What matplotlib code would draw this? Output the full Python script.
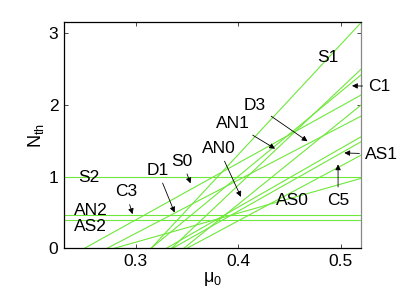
import numpy as np
import matplotlib.pyplot as plt

plt.rcParams['font.family'] = ['Liberation Sans', 'DejaVu Sans']
plt.rcParams['mathtext.fontset'] = 'custom'
plt.rcParams['mathtext.rm'] = 'Liberation Sans'
plt.rcParams['mathtext.it'] = 'Liberation Sans'

# threshold lines: mu_0 where N_th = 0, and N_th value at the right edge (mu_0 = 0.52)
mu_zero = [0.315, 0.335, 0.315, 0.250, 0.272, 0.347, 0.330, 0.336, 0.350, 0.279]
n_right = [3.15, 2.50, 2.42, 2.14, 1.845, 2.00, 1.557, 1.487, 1.30, 0.976]

# horizontal thresholds (S2, AN2, AS2)
n_flat = [1.0, 0.47, 0.39]

green = '#6ee83a'
x_lo, x_hi = 0.23, 0.52

fig = plt.figure(figsize=(3.98, 2.99), dpi=100)
ax = fig.add_axes([64/398, 1-248.3/299, (361-64)/398, (248.3-22)/299])

for m0, nr in zip(mu_zero, n_right):
    slope = nr / (x_hi - m0)
    xs = np.array([m0, x_hi])
    ax.plot(xs, slope * (xs - m0), color=green, lw=0.8)
for n in n_flat:
    ax.plot([x_lo, x_hi], [n, n], color=green, lw=0.8)

ax.set_xlim(x_lo, x_hi)
ax.set_ylim(0, 3.16)
ax.set_xticks([0.3, 0.4, 0.5])
ax.set_xticklabels(['0.3', '0.4', '0.5'])
ax.set_yticks([0, 1, 2, 3])
ax.tick_params(direction='in', length=3, labelsize=12.5, width=0.5,
               top=True, right=True, pad=4)
for s in ax.spines.values():
    s.set_linewidth(0.9)
ax.spines['right'].set_color('#888888')
ax.set_xlabel(r'$\mu_0$', fontsize=13, labelpad=1)
ax.set_ylabel(r'N$_{\rm th}$', fontsize=13, labelpad=2)

fs = 12.5
arrow = dict(arrowstyle='-|>', color='black', lw=0.6, mutation_scale=8)
# (label, text position, arrow tip or None)
labels = [
    ('S1', (0.4877, 2.67), None),
    ('C1', (0.5378, 2.26), (0.5085, 2.27)),
    ('D3', (0.4165, 2.00), (0.470, 1.473)),
    ('AN1', (0.3954, 1.743), (0.4384, 1.371)),
    ('AN0', (0.381, 1.395), (0.4039, 0.683)),
    ('S0', (0.3455, 1.218), (0.3545, 0.87)),
    ('D1', (0.3212, 1.09), (0.339, 0.464)),
    ('S2', (0.2547, 0.99), None),
    ('C3', (0.2903, 0.79), (0.2977, 0.44)),
    ('AN2', (0.2562, 0.534), None),
    ('AS2', (0.2562, 0.31), None),
    ('AS0', (0.453, 0.674), None),
    ('C5', (0.4976, 0.674), (0.4976, 1.21)),
    ('AS1', (0.54, 1.315), (0.501, 1.333)),
]
for name, pos, tip in labels:
    if tip is None:
        ax.text(pos[0], pos[1], name, fontsize=fs, ha='center', va='center', clip_on=False)
    else:
        ax.annotate(name, xy=tip, xytext=pos, fontsize=fs, ha='center', va='center',
                    arrowprops=arrow, annotation_clip=False)

fig.savefig('out.png', dpi=100)
